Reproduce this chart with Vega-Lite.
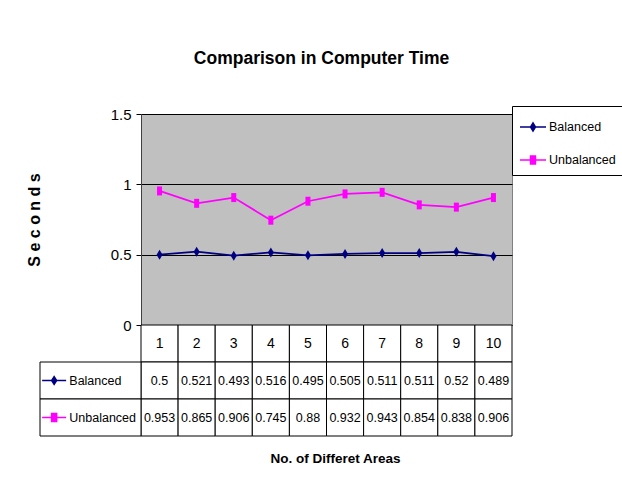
{
  "$schema": "https://vega.github.io/schema/vega-lite/v6.json",
  "background": "white",
  "padding": {"left": 25, "top": 50, "right": 5, "bottom": 5},
  "bounds": "flush",
  "spacing": 0,
  "title": {"text": "Comparison in Computer Time", "font": "Liberation Sans, Arial, sans-serif", "fontSize": 17.5, "fontWeight": "bold", "color": "black", "anchor": "middle", "offset": 38, "dx": -3},
  "datasets": {
    "times": [
      {"area": 1, "series": "Balanced", "value": 0.5},
      {"area": 2, "series": "Balanced", "value": 0.521},
      {"area": 3, "series": "Balanced", "value": 0.493},
      {"area": 4, "series": "Balanced", "value": 0.516},
      {"area": 5, "series": "Balanced", "value": 0.495},
      {"area": 6, "series": "Balanced", "value": 0.505},
      {"area": 7, "series": "Balanced", "value": 0.511},
      {"area": 8, "series": "Balanced", "value": 0.511},
      {"area": 9, "series": "Balanced", "value": 0.52},
      {"area": 10, "series": "Balanced", "value": 0.489},
      {"area": 1, "series": "Unbalanced", "value": 0.953},
      {"area": 2, "series": "Unbalanced", "value": 0.865},
      {"area": 3, "series": "Unbalanced", "value": 0.906},
      {"area": 4, "series": "Unbalanced", "value": 0.745},
      {"area": 5, "series": "Unbalanced", "value": 0.88},
      {"area": 6, "series": "Unbalanced", "value": 0.932},
      {"area": 7, "series": "Unbalanced", "value": 0.943},
      {"area": 8, "series": "Unbalanced", "value": 0.854},
      {"area": 9, "series": "Unbalanced", "value": 0.838},
      {"area": 10, "series": "Unbalanced", "value": 0.906}
    ]
  },
  "data": {"name": "times"},
  "config": {"view": {"stroke": null}, "font": "Liberation Sans, Arial, sans-serif"},
  "vconcat": [
    {
      "width": 371,
      "height": 211,
      "view": {"fill": "#c0c0c0", "stroke": "#808080", "strokeWidth": 1},
      "encoding": {
        "x": {"field": "area", "type": "ordinal", "scale": {"paddingInner": 0, "paddingOuter": 0}, "axis": null},
        "y": {
          "field": "value", "type": "quantitative", "scale": {"domain": [0, 1.5]},
          "axis": {
            "values": [0, 0.5, 1, 1.5], "format": "~g",
            "title": "S e c o n d s", "titleFont": "Liberation Sans, Arial, sans-serif", "titleFontSize": 16, "titleFontWeight": "bold", "titleColor": "black", "titlePadding": 68,
            "labelFont": "Liberation Sans, Arial, sans-serif", "labelFontSize": 15, "labelColor": "black", "labelPadding": 5,
            "tickColor": "black", "tickSize": 5, "domainColor": "#404040",
            "grid": true, "gridColor": "black", "gridOpacity": 1, "gridWidth": 1
          }
        },
        "color": {
          "field": "series", "type": "nominal",
          "scale": {"domain": ["Balanced", "Unbalanced"], "range": ["#000080", "#ff00ff"]},
          "legend": {
            "title": null, "orient": "none", "legendX": 371, "legendY": -8,
            "strokeColor": "black", "fillColor": "white", "padding": 7, "rowPadding": 11,
            "symbolSize": 676, "labelOffset": 2, "labelLimit": 0,
            "labelFont": "Liberation Sans, Arial, sans-serif", "labelFontSize": 12.5, "labelColor": "black",
            "encode": {
              "symbols": {
                "update": {
                  "shape": {"signal": "datum.value === 'Balanced' ? 'M-1,0H1M0,-0.31L0.19,0L0,0.31L-0.19,0Z' : 'M-1,0H1M-0.19,-0.31H0.19V0.31H-0.19Z'"},
                  "fill": {"signal": "datum.value === 'Balanced' ? '#000080' : '#ff00ff'"},
                  "stroke": {"signal": "datum.value === 'Balanced' ? '#000080' : '#ff00ff'"},
                  "strokeWidth": {"value": 1.5},
                  "opacity": {"value": 1},
                  "fillOpacity": {"value": 1}
                }
              }
            }
          }
        }
      },
      "layer": [
        {"mark": {"type": "line", "strokeWidth": 1.75}},
        {"transform": [{"filter": "datum.series === 'Balanced'"}], "mark": {"type": "point", "shape": "M0,-1L0.6,0L0,1L-0.6,0Z", "filled": true, "size": 100, "opacity": 1}},
        {"transform": [{"filter": "datum.series === 'Unbalanced'"}], "mark": {"type": "point", "shape": "M-0.5,-0.9H0.5V0.9H-0.5Z", "filled": true, "size": 100, "opacity": 1}}
      ]
    },
    {
      "width": 371,
      "height": 111,
      "resolve": {"scale": {"x": "independent"}},
      "layer": [
        {
          "transform": [{"filter": "datum.series === 'Balanced'"}],
          "mark": {"type": "rect", "fill": "white", "stroke": "black", "strokeWidth": 1},
          "encoding": {
            "x": {"field": "area", "type": "ordinal", "scale": {"paddingInner": 0, "paddingOuter": 0},
                  "axis": {"labels": false, "ticks": false, "domain": false, "title": "No. of Differet Areas", "titleFont": "Liberation Sans, Arial, sans-serif", "titleFontSize": 13.5, "titleFontWeight": "bold", "titleColor": "black", "titlePadding": 15, "titleX": 194}},
            "y": {"datum": "hdr", "type": "nominal", "scale": {"domain": ["hdr", "Balanced", "Unbalanced"], "paddingInner": 0, "paddingOuter": 0}, "axis": null}
          }
        },
        {
          "mark": {"type": "rect", "fill": "white", "stroke": "black", "strokeWidth": 1},
          "encoding": {
            "x": {"field": "area", "type": "ordinal", "scale": {"paddingInner": 0, "paddingOuter": 0}, "axis": null},
            "y": {"field": "series", "type": "nominal", "axis": null}
          }
        },
        {
          "transform": [{"filter": "datum.series === 'Balanced'"}],
          "mark": {"type": "text", "fontSize": 14, "color": "black", "baseline": "middle"},
          "encoding": {
            "x": {"field": "area", "type": "ordinal", "scale": {"paddingInner": 0, "paddingOuter": 0}, "axis": null},
            "y": {"datum": "hdr", "type": "nominal", "axis": null},
            "text": {"field": "area", "type": "nominal"}
          }
        },
        {
          "mark": {"type": "text", "fontSize": 12.5, "color": "black", "baseline": "middle"},
          "encoding": {
            "x": {"field": "area", "type": "ordinal", "scale": {"paddingInner": 0, "paddingOuter": 0}, "axis": null},
            "y": {"field": "series", "type": "nominal", "axis": null},
            "text": {"field": "value", "type": "nominal"}
          }
        },
        {
          "transform": [{"filter": "datum.area === 1"}],
          "mark": {"type": "rect", "fill": "white", "stroke": "black", "strokeWidth": 1},
          "encoding": {
            "x": {"datum": 0, "type": "quantitative", "scale": {"domain": [0, 100], "range": [-101, 0]}, "axis": null},
            "x2": {"datum": 100},
            "y": {"field": "series", "type": "nominal", "axis": null}
          }
        },
        {
          "transform": [{"filter": "datum.area === 1 && datum.series === 'Balanced'"}],
          "mark": {"type": "point", "shape": "M-1,0H1M0,-0.33L0.21,0L0,0.33L-0.21,0Z", "filled": true, "fill": "#000080", "stroke": "#000080", "strokeWidth": 1.5, "size": 576, "opacity": 1},
          "encoding": {
            "x": {"datum": 14, "type": "quantitative", "scale": {"domain": [0, 100], "range": [-101, 0]}, "axis": null},
            "y": {"field": "series", "type": "nominal", "axis": null}
          }
        },
        {
          "transform": [{"filter": "datum.area === 1 && datum.series === 'Unbalanced'"}],
          "mark": {"type": "point", "shape": "M-1,0H1M-0.21,-0.33H0.21V0.33H-0.21Z", "filled": true, "fill": "#ff00ff", "stroke": "#ff00ff", "strokeWidth": 1.5, "size": 576, "opacity": 1},
          "encoding": {
            "x": {"datum": 14, "type": "quantitative", "scale": {"domain": [0, 100], "range": [-101, 0]}, "axis": null},
            "y": {"field": "series", "type": "nominal", "axis": null}
          }
        },
        {
          "transform": [{"filter": "datum.area === 1"}],
          "mark": {"type": "text", "fontSize": 12.5, "color": "black", "align": "left", "baseline": "middle"},
          "encoding": {
            "x": {"datum": 29, "type": "quantitative", "scale": {"domain": [0, 100], "range": [-101, 0]}, "axis": null},
            "y": {"field": "series", "type": "nominal", "axis": null},
            "text": {"field": "series", "type": "nominal"}
          }
        }
      ]
    }
  ]
}
